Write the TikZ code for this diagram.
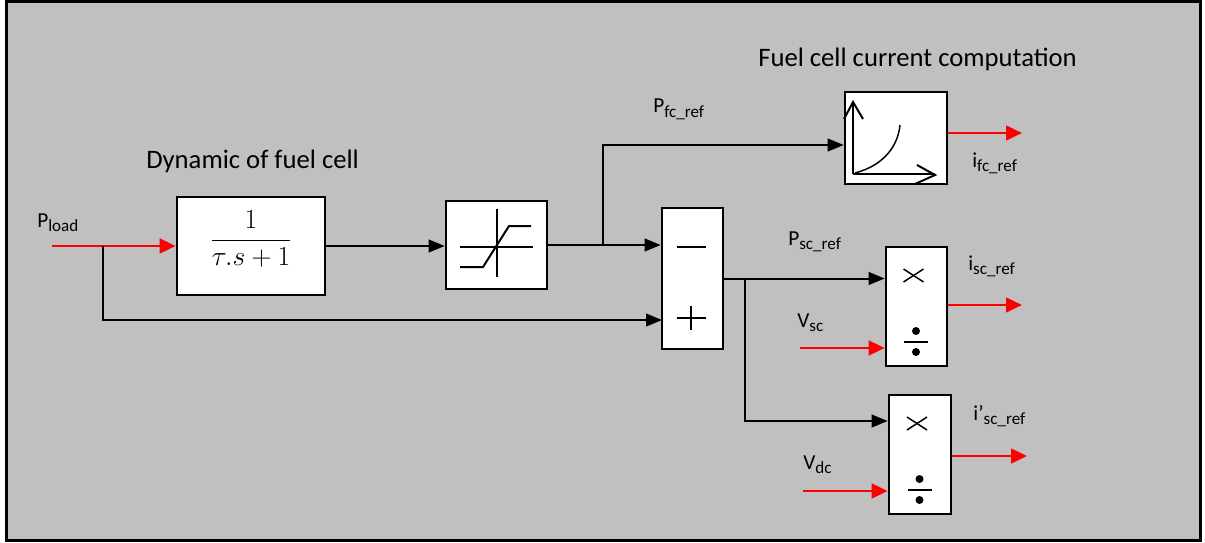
\documentclass[tikz,border=0pt]{standalone}
\usepackage{fontspec}
\setmainfont{Carlito}
\usetikzlibrary{arrows.meta,calc}
\definecolor{bg}{RGB}{192,192,192}
\newcommand{\lsub}[1]{\raisebox{-3pt}{\fontsize{12.8}{14}\selectfont #1}}
\begin{document}
\begin{tikzpicture}[x=0.75pt,y=-0.75pt,
  blk/.style={draw=black, fill=white, line width=2pt, inner sep=0pt},
  conn/.style={line width=1.5pt, -{Triangle[length=12pt,width=9.5pt]}},
  rconn/.style={draw=red, line width=2pt, -{Triangle[length=12pt,width=11pt]}},
  icon/.style={line width=1.5pt},
  thin icon/.style={line width=1.1pt},
  lbl/.style={font=\fontsize{16}{19}\selectfont, anchor=base west, inner sep=0pt},
  ttl/.style={font=\fontsize{20}{24}\selectfont, anchor=base west, inner sep=0pt}]
\useasboundingbox (0,0) rectangle (1205,542);
\fill[white] (0,0) rectangle (1205,542);
\draw[line width=2.2pt, fill=bg] (6.5,1.5) rectangle (1200.5,540.5);

% blocks
\node[blk, minimum width=111pt, minimum height=73.5pt] (tf) at (251,246) {};
\node[inner sep=0pt] (tfx) at ($(tf.center)+(0,-7)$)
  {\fontsize{20}{24}\selectfont$\displaystyle\frac{1}{\tau.s+1}$};
\node[blk, minimum width=75.75pt, minimum height=66pt] (sat) at (496.5,245) {};
\node[blk, minimum width=76.5pt, minimum height=69pt] (fc) at (896,138) {};
\node[blk, minimum width=45.75pt, minimum height=105.75pt] (sum) at (692.5,278.5) {};
\node[blk, minimum width=45.75pt, minimum height=89.25pt] (m1) at (916.5,306.5) {};
\node[blk, minimum width=46.5pt, minimum height=89.25pt] (m2) at (920,454.5) {};

% saturation icon
\begin{scope}[shift={(sat.center)}]
  \draw[icon] (0,-36) -- (0,32);
  \draw[icon] (-36.5,2) -- (36.5,2);
  \draw[icon] (-36.5,22) -- (-13.5,22) -- (12.5,-19) -- (34.5,-19);
\end{scope}
% fuel cell icon
\begin{scope}[shift={(fc.center)}]
  \draw[icon] (-43,36) -- (-43,-35);
  \draw[icon] (-52,-19) -- (-43,-36) -- (-33,-19);
  \draw[icon] (-43,36) -- (39,36);
  \draw[icon] (21,27) -- (39,37) -- (19,46);
  \draw[thin icon] (-41,35) .. controls (-11,27) and (2,7) .. (4,-13);
\end{scope}
% sum icon
\begin{scope}[shift={(sum.center)}]
  \draw[icon] (-16,-31.5) -- (13,-31.5);
  \draw[icon] (-16,39.5) -- (13,39.5);
  \draw[icon] (-2,27) -- (-2,51);
\end{scope}
% product icons
\foreach \m in {m1,m2}{
\begin{scope}[shift={(\m.center)}]
  \draw[thin icon] (-13,-37.5) -- (7,-24.5);
  \draw[thin icon] (-13,-24.5) -- (7,-37.5);
  \draw[icon] (-12.5,35) -- (11.5,35);
  \fill (-0.5,24.5) circle (4);
  \fill (-0.5,45.5) circle (4);
\end{scope}
}

% connectors
\coordinate (pin) at (52,246);
\coordinate (b0) at (103,246);
\coordinate (s2) at (662,320);
\coordinate (b1) at (603,245);
\coordinate (b2) at (745,278.5);
\coordinate (vsc) at (800,348);
\coordinate (vdc) at (803,491);
\coordinate (o1) at (1022,133);
\coordinate (o2) at (1022,305);
\coordinate (o3) at (1027,456);

\draw[rconn] (pin) -- (tf.west);
\draw[conn] (b0) |- (s2);
\draw[conn] (tf.east) -- (tf.east -| sat.west);
\draw[conn] (sat.east) -- (sat.east -| sum.west);
\draw[conn] (b1) |- ($(fc.west)+(0,7)$);
\draw[conn] (sum.east) -- (sum.east -| m1.west);
\draw[conn] (b2) |- ($(m2.west)+(0,-33.5)$);
\draw[rconn] (vsc) -- (vsc -| m1.west);
\draw[rconn] (vdc) -- (vdc -| m2.west);
\draw[rconn] (o1 -| fc.east) -- (o1);
\draw[rconn] (o2 -| m1.east) -- (o2);
\draw[rconn] (o3 -| m2.east) -- (o3);

% labels
\node[ttl] (t1) at (146,168) {Dynamic of fuel cell};
\node[ttl] (t2) at (758,67) {Fuel cell current computation};
\node[lbl] (l1) at (37,227) {P\lsub{load}};
\node[lbl] (l2) at (653,113) {P\lsub{fc\_ref}};
\node[lbl] (l3) at (972,167) {i\lsub{fc\_ref}};
\node[lbl] (l4) at (788,245) {P\lsub{sc\_ref}};
\node[lbl] (l5) at (968,270) {i\lsub{sc\_ref}};
\node[lbl] (l6) at (797,327) {V\lsub{sc}};
\node[lbl] (l7) at (973,420) {i’\lsub{sc\_ref}};
\node[lbl] (l8) at (803,469) {V\lsub{dc}};
\end{tikzpicture}
\end{document}
